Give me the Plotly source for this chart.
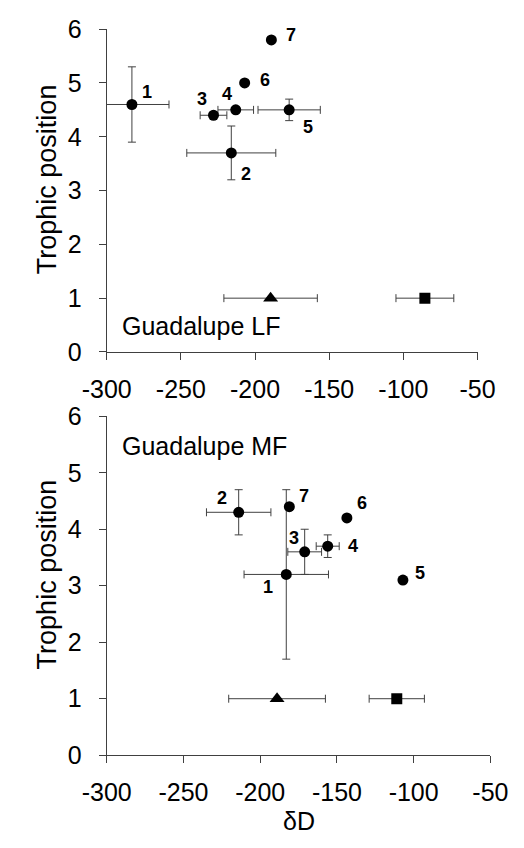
import plotly.graph_objects as go

# ---- Guadalupe LF (upper panel) ----
lf_ids = ["1", "2", "3", "4", "5", "6", "7"]
lf_dD = [-283, -216, -228, -213, -177, -207, -189]
lf_dD_err = [25, 30, 9, 12, 21, 0, 0]
lf_tp = [4.6, 3.7, 4.4, 4.5, 4.5, 5.0, 5.8]
lf_tp_err = [0.7, 0.5, 0, 0.05, 0.2, 0, 0]
lf_tri_dD, lf_tri_err, lf_tri_tp = [-189.5], [31.5], [1]
lf_sq_dD, lf_sq_err, lf_sq_tp = [-85.5], [19.5], [1]

# ---- Guadalupe MF (lower panel) ----
mf_ids = ["1", "2", "3", "4", "5", "6", "7"]
mf_dD = [-183, -214, -171, -156, -107, -143.5, -181]
mf_dD_err = [27.5, 21, 11, 7.5, 0, 0, 0]
mf_tp = [3.2, 4.3, 3.6, 3.7, 3.1, 4.2, 4.4]
mf_tp_err = [1.5, 0.4, 0.4, 0.2, 0, 0, 0]
mf_tri_dD, mf_tri_err, mf_tri_tp = [-189], [31.5], [1]
mf_sq_dD, mf_sq_err, mf_sq_tp = [-111], [18], [1]

x_ticks = [-300, -250, -200, -150, -100, -50]
x_tick_labels = ["-300", "-250", "-200", "-150", "-100", "-50"]
y_ticks = [0, 1, 2, 3, 4, 5, 6]

# pixel offsets of the numeric labels relative to their points
lf_label_shift = [(15, 12.6), (14.7, -21), (-11.4, 16), (-9, 16), (19, -17.4), (20.7, 2.7), (19.4, 5)]
mf_label_shift = [(-18.3, -12.3), (-17, 14.3), (-10.7, 14), (25, -0.3), (17.3, 7.3), (15, 14.6), (14.7, 10.7)]

W, H = 524, 848
FONT = "Arial, Liberation Sans, sans-serif"
AX = "#404040"
err_style = dict(color=AX, thickness=1, width=4)

fig = go.Figure()


def add_panel(xa, ya, dD, dD_err, tp, tp_err, tri, sq):
    fig.add_trace(go.Scatter(
        x=dD, y=tp, mode="markers", xaxis=xa, yaxis=ya,
        marker=dict(symbol="circle", size=11, color="black"),
        error_x=dict(type="data", array=dD_err, visible=True, **err_style),
        error_y=dict(type="data", array=tp_err, visible=True, **err_style),
        showlegend=False, cliponaxis=True))
    for (sx, se, sy), sym, size in ((tri, "triangle-up", 13), (sq, "square", 11)):
        fig.add_trace(go.Scatter(
            x=sx, y=sy, mode="markers", xaxis=xa, yaxis=ya,
            marker=dict(symbol=sym, size=size, color="black"),
            error_x=dict(type="data", array=se, visible=True, **err_style),
            showlegend=False))


add_panel("x", "y", lf_dD, lf_dD_err, lf_tp, lf_tp_err,
          (lf_tri_dD, lf_tri_err, lf_tri_tp), (lf_sq_dD, lf_sq_err, lf_sq_tp))
add_panel("x2", "y2", mf_dD, mf_dD_err, mf_tp, mf_tp_err,
          (mf_tri_dD, mf_tri_err, mf_tri_tp), (mf_sq_dD, mf_sq_err, mf_sq_tp))

annotations = []
for ids, xs, ys, shifts, xr, yr in ((lf_ids, lf_dD, lf_tp, lf_label_shift, "x", "y"),
                                     (mf_ids, mf_dD, mf_tp, mf_label_shift, "x2", "y2")):
    for t, xv, yv, (dx, dy) in zip(ids, xs, ys, shifts):
        annotations.append(dict(
            text=f"<b>{t}</b>", x=xv, y=yv, xref=xr, yref=yr, showarrow=False,
            xshift=dx, yshift=dy, font=dict(family=FONT, size=18, color="black")))

# panel names
annotations.append(dict(text="Guadalupe LF", x=-291.2, y=0.49, xref="x", yref="y",
                        xanchor="left", yanchor="middle", showarrow=False,
                        font=dict(family=FONT, size=25, color="black")))
annotations.append(dict(text="Guadalupe MF", x=-291.4, y=5.48, xref="x2", yref="y2",
                        xanchor="left", yanchor="middle", showarrow=False,
                        font=dict(family=FONT, size=25, color="black")))

# axis titles
for yc in (170.8, 579.5):
    annotations.append(dict(text="Trophic position", x=24 / W, y=1 - yc / H,
                            xref="paper", yref="paper", textangle=-90,
                            xanchor="center", yanchor="middle", showarrow=False,
                            font=dict(family=FONT, size=27, color="black")))
annotations.append(dict(text="δD", x=298 / W, y=1 - 835 / H, xref="paper", yref="paper",
                        xanchor="center", yanchor="middle", showarrow=False,
                        font=dict(family=FONT, size=25, color="black")))

axis_common = dict(showline=True, linecolor=AX, linewidth=1, ticks="outside",
                   ticklen=7, tickcolor=AX, tickwidth=1, showgrid=False, zeroline=False,
                   tickfont=dict(family=FONT, size=25, color="black"), fixedrange=True)

fig.update_layout(
    width=W, height=H, margin=dict(l=0, r=0, t=0, b=0),
    paper_bgcolor="white", plot_bgcolor="white",
    xaxis=dict(domain=[89 / W, 493 / W], range=[-300, -50], tickvals=x_ticks,
               ticktext=x_tick_labels, anchor="y", ticklabelstandoff=8, **axis_common),
    yaxis=dict(domain=[1 - 349.5 / H, 1 - 15.7 / H], range=[0, 6], tickvals=y_ticks,
               anchor="x", ticklabelstandoff=12, **axis_common),
    xaxis2=dict(domain=[89 / W, 507 / W], range=[-300, -50], tickvals=x_ticks,
                ticktext=x_tick_labels, anchor="y2", ticklabelstandoff=8, **axis_common),
    yaxis2=dict(domain=[1 - 766.5 / H, 1 - 416 / H], range=[0, 6], tickvals=y_ticks,
                anchor="x2", ticklabelstandoff=12, **axis_common),
    annotations=annotations,
)

fig.write_html("out.html")
